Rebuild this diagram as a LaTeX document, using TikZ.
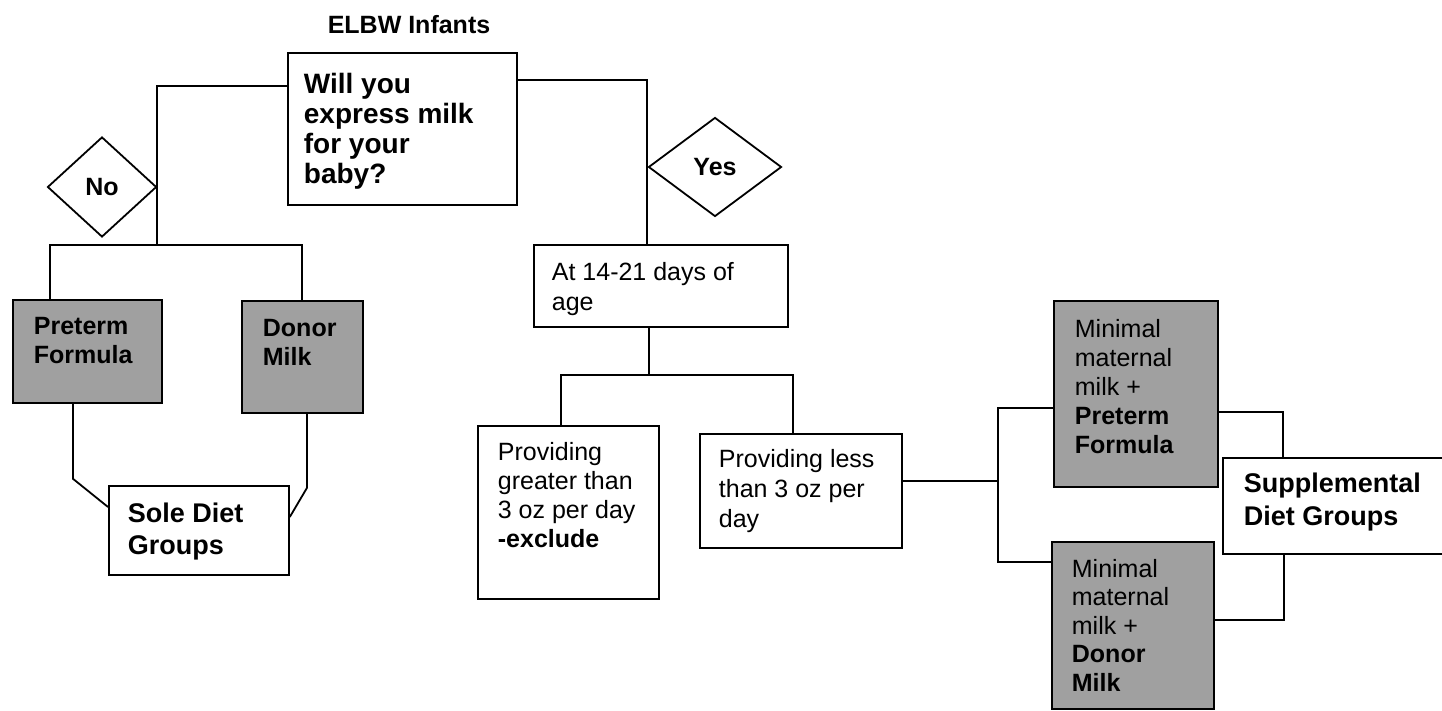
\documentclass[tikz,border=0pt]{standalone}
\usepackage{fontspec}
\setmainfont{Liberation Sans}
\usetikzlibrary{shapes.geometric,calc}
\definecolor{boxgray}{RGB}{160,160,160}
\newcommand{\fs}[2]{\fontsize{#1}{#2}\selectfont}
\begin{document}
\begin{tikzpicture}[x=1pt,y=-1pt,
  line width=1.8pt,
  box/.style={draw, line width=1.8pt, inner sep=0pt, anchor=north west, fill=white},
  graybox/.style={box, fill=boxgray},
  dia/.style={draw, diamond, line width=1.8pt, inner sep=0pt, font=\fs{25}{29}\bfseries, fill=white},
  txt/.style={inner sep=0pt, anchor=north west, align=left, font=\fs{25}{29}},
  conn/.style={draw, line width=1.8pt}
]
\useasboundingbox (0,0) rectangle (1442,711);

% title
\node[inner sep=0pt, font=\fs{25}{29}\bfseries] (title) at (409,25) {ELBW Infants};

% boxes
\node[box, minimum width=229pt, minimum height=152pt] (q) at (287,52) {};
\node[graybox, minimum width=149pt, minimum height=103pt] (pre) at (12,299) {};
\node[graybox, minimum width=121pt, minimum height=112pt] (don) at (241,300) {};
\node[box, minimum width=180pt, minimum height=89pt] (sole) at (108,485) {};
\node[box, minimum width=254pt, minimum height=82pt] (at) at (533,244) {};
\node[box, minimum width=181pt, minimum height=173pt] (gr) at (477,425) {};
\node[box, minimum width=202pt, minimum height=114pt] (ls) at (699,433) {};
\node[graybox, minimum width=164pt, minimum height=186pt] (m1) at (1053,300) {};
\node[graybox, minimum width=162pt, minimum height=167pt] (m2) at (1051,541) {};
\node[box, minimum width=226pt, minimum height=96pt] (sup) at (1222,457) {};

% diamonds
\node[dia, minimum width=109pt, minimum height=100pt] (no) at (102,187) {No};
\node[dia, minimum width=133pt, minimum height=99pt] (yes) at (715,167) {Yes};

% texts
\node[txt, font=\fs{28}{30}\bfseries] (qt) at (303,72) {Will you\\express milk\\for your\\baby?};
\node[txt, font=\fs{25}{29}\bfseries] (pret) at (33,316) {Preterm\\Formula};
\node[txt, font=\fs{25}{29}\bfseries] (dont) at (262,318) {Donor\\Milk};
\node[txt, font=\fs{27}{32}\bfseries] (solet) at (127,502) {Sole Diet\\Groups};
\node[txt, font=\fs{25}{30}] (att) at (551,261) {At 14-21 days of\\age};
\node[txt, font=\fs{25}{29}] (grt) at (497,441) {Providing\\greater than\\3 oz per day\\\textbf{-exclude}};
\node[txt, font=\fs{25}{30}] (lst) at (718,448) {Providing less\\than 3 oz per\\day};
\node[txt, font=\fs{25}{29}] (m1t) at (1074,318) {Minimal\\maternal\\milk +\\\textbf{Preterm}\\\textbf{Formula}};
\node[txt, font=\fs{25}{28.5}] (m2t) at (1071,558) {Minimal\\maternal\\milk +\\\textbf{Donor}\\\textbf{Milk}};
\node[txt, font=\fs{27}{33}\bfseries] (supt) at (1243,472) {Supplemental\\Diet Groups};

% junction coordinates
\coordinate (jNo) at (157,245);
\coordinate (jAt) at (649,375);
\coordinate (jS) at (998,481);

% connectors: No branch
\draw[conn] ($(q.north west)+(0,34)$) -| (jNo);
\draw[conn] ($(pre.north west)+(38,0)$) |- (jNo) -| ($(don.north west)+(61,0)$);
\draw[conn] ($(pre.south west)+(61,0)$) -- ++(0,75) -- ($(sole.north west)+(0,22)$);
\draw[conn] ($(don.south west)+(66,0)$) -- ++(0,74) -- ($(sole.north east)+(0,32)$);

% Yes branch
\draw[conn] ($(q.north east)+(0,28)$) -| ($(at.north west)+(114,0)$);
\draw[conn] ($(at.south west)+(116,0)$) -- (jAt);
\draw[conn] ($(gr.north west)+(84,0)$) |- (jAt) -| ($(ls.north west)+(94,0)$);
\draw[conn] ($(ls.north east)+(0,48)$) -- (jS);
\draw[conn] ($(m1.north west)+(0,108)$) -| (jS);
\draw[conn] (jS) |- ($(m2.north west)+(0,21)$);
\draw[conn] ($(m1.north east)+(0,112)$) -| ($(sup.north west)+(61,0)$);
\draw[conn] ($(m2.north east)+(0,79)$) -| ($(sup.south west)+(62,0)$);
\end{tikzpicture}
\end{document}
